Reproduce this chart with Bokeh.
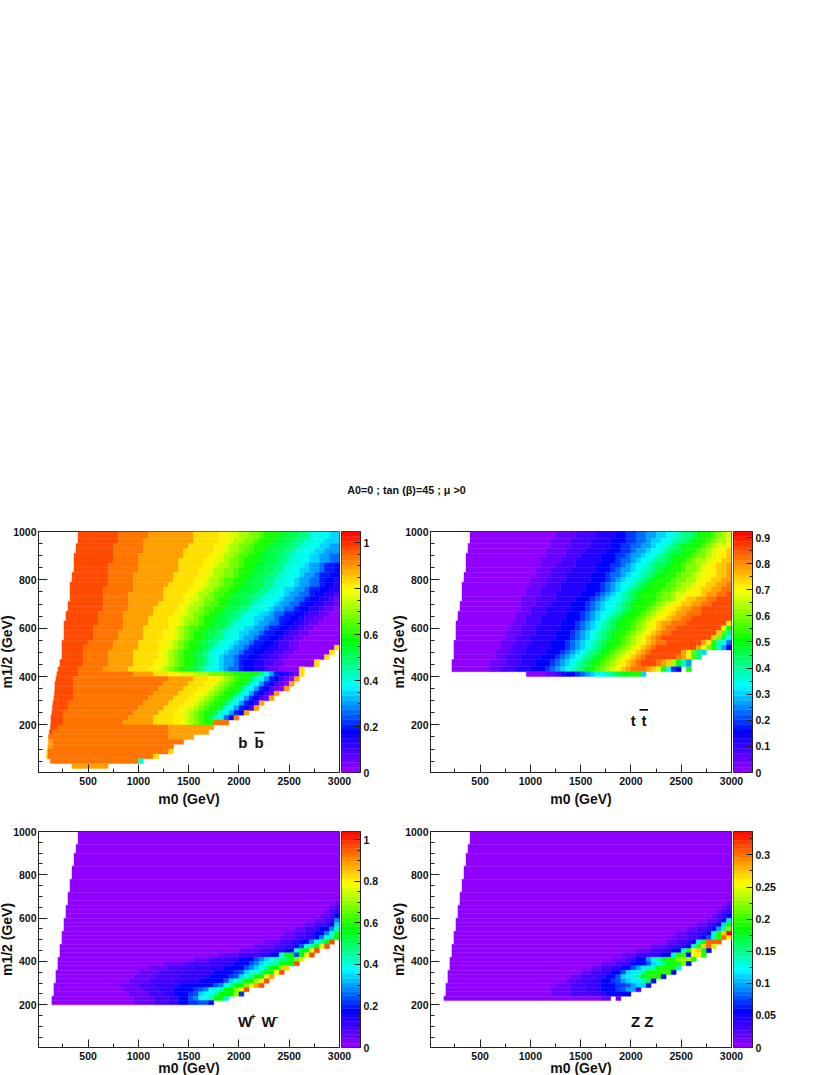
import re
import colorsys
import numpy as np
from bokeh.plotting import figure
from bokeh.layouts import column, row
from bokeh.models import LinearColorMapper, FixedTicker, ColumnDataSource
from bokeh.core.properties import value
from bokeh.transform import transform
from bokeh.embed import file_html
from bokeh.resources import INLINE

# Each row: (m1/2 low, m1/2 high, first m0, runs of level letter + number of 50 GeV columns)
# Letters a..z are 26 equal steps of the colour scale, a capital is half a step above,
# "." is an empty cell.
BB_ROWS = [
    (970, 1000, 400, "X2x6W6V9u5t2s2r2q2p1o3n2m2l2k1j3i2"),
    (950, 970, 400, "X2x6W5V10u5t2s1r2q2p1o3n2m2l2k2j2i3"),
    (930, 950, 380, "X3x5W6V9u5t2s1r2q2p1o3n2m2l2k2j2i2h2"),
    (910, 930, 380, "X3x5W6V8u6t2s1r2q1p2o2n2m2l2k2j2i2h3"),
    (890, 910, 360, "X3x5W5V9u5t2s1r2q1p2o2n2m2l2k2j2i2h2g2"),
    (870, 890, 360, "X3x5W5V8u5t2s2r1q2p1o3n2m2l2k2j2i2h2g2"),
    (850, 870, 360, "X3x4W6V8u5t2s1r2q2p1o2n2m2l2k2j2i1h2g1f2e1"),
    (830, 850, 360, "X2x5W6V8u4t2s1r2q2p1o3n2m2l2k2j1i2h2g1f2e1"),
    (810, 830, 340, "X3x5W5V8u5t2s1r2q2p1o2n2m2l2k2j2i1h2g1f2e2"),
    (790, 810, 340, "X3x5W5V8u4t2s1r2q1p2o2n2m2l2k2j2i1h2g2f1e2d1"),
    (770, 790, 320, "X3x5W5V7u5t2s1r2q1p2o2n2m2l2k2j2i1h2g2f1e2d1"),
    (750, 770, 320, "X3x4W6V6u5t2s1r2q1p2o2n2m2l2k2j1i2h2g1f2e2d2"),
    (730, 750, 320, "X3x4W5V7u4t2s1r2q1p2o2n2m2l2k2j2i1h2g2f1e2d2c1"),
    (710, 730, 320, "X3x4W5V7u4t1s2r1q2p1o2n2m2l2k2j2i1h2g2f1e2d2c1b1"),
    (690, 710, 300, "X3x4W5V6u4t2s1r2q1p2o2n2m2l1k2j2i1h2g2f1e2d2c2b1"),
    (670, 690, 300, "X2x5W5V5u5t1s1r2q1p2o2n1m2l2k2j2i1h2g2f1e2d2c1b2a1"),
    (650, 670, 280, "X3x4W5V6u4t2s1r1q2p1o2n1m2l2k1j2i2h1g2f2e2d1c2b2a2"),
    (630, 650, 280, "X3x4W5V5u4t2s1r2q1p1o2n2m1l2k1j2i2h2g1f2e2d1c2b2a3"),
    (610, 630, 260, "X3x4W5V5u4t2s1r1q2p1o2n1m2l1k2j2i1h2g2f1e2d2c1b2a4"),
    (590, 610, 260, "X3x3W6V4u5t1s1r1q1p2o2n1m2l1k2j1i2h2g1f2e2d2c1b2a5"),
    (570, 590, 260, "X3x3W5V5u4t2s1r1q1p1o2n1m2l1k2j1i2h2g1f2e2d1c2b2a6"),
    (550, 570, 260, "X2x4W5V5u4t2s1r1q1p1o2n1m1l2k1j2i1h2g1f2e2d1c2b2a7"),
    (530, 550, 240, "X3x3W5V5u4t2s1r1q1p1o2n1m1l2k1j2i1h2g1f2e2d1c2b2a8"),
    (510, 530, 240, "X3x2W6V5u4t2s1r1q1p1o2n1m1l1k1j2i1h2g1f2e2d2c2b2a7u1"),
    (490, 510, 240, "X3x2W5V5u5t1s1r1q1p1o2n1m1l1k1j2i1h2g1f2e2d2c2b2a7u1"),
    (470, 490, 240, "X2x3W5V5u5t1s1r1q1p1o2n1m1l1k1j1i1h2g1f2e2d2c2b2a7u1"),
    (440, 470, 220, "X2x3W5V5u4t2s1r1q1p1o2n1m1l1k1j1i1h2g1f1e2d2c2b2a6u1"),
    (420, 440, 200, "X2x2W5V5u4t2s1r1q1p1o2n1m1l1k1j2i1h1g2f1e2d2c1b2a4u1"),
    (400, 420, 190, "X3x2w11v4u3t2s3r3q3p2o5l1j1h1f1e1d1c1b1u1"),
    (380, 400, 180, "X2x2w19v5u3t2s1r1q1p1o2m1k1j1h1f1e1c1b1a1v1"),
    (360, 380, 170, "X2x2w18v5u3t2s1r1q1p1o2m1k1j1h1f1e1c1b1a1v1"),
    (340, 360, 170, "X2x2w17v5u3t2s1r1q1p1o2m1k1j1h1f1e1c1b1a1v1"),
    (320, 340, 165, "X2x2w16v5u3t2s1r1q1p1o2m1k1j1h1f1e1c1b1v1"),
    (300, 320, 160, "X2x2w15v5u3t2s1r1q1p1o2m1k1j1h1f1e1c1b1v1"),
    (280, 300, 150, "X1x2w15v5u3t2s1r1q1p1o2m1k1j1h1f1e1c1v1"),
    (260, 280, 145, "X2x2w14v5u3t2s1r1q1p1o2m1k1j1h1f1e1c1v1"),
    (240, 260, 140, "X2x1w14v5u3t2s1r1q1p1o2m1k1j1h1f1e1v1"),
    (220, 240, 130, "X2x1w13v5u4t2s1r1q1p1o1m1k1j1g1e1w1"),
    (200, 220, 130, "X2x1w12v6u4t2s1r1q1p1o2w3"),
    (180, 200, 125, "x2w22v9"),
    (160, 180, 115, "x1w23v8"),
    (140, 160, 105, "w10W10w4v5"),
    (120, 140, 105, "v1w8W12w6"),
    (100, 120, 100, "v1w5W15w4"),
    (80, 100, 90, "u1w4W17w3u1"),
    (60, 80, 85, "u1w3W18u1"),
    (40, 60, 125, "w2W16k1"),
    (20, 40, 340, "v8"),
]

TT_ROWS = [
    (970, 1000, 400, "a17b4c4d4e2f2g2h2i2j2k1l2m1n1o2p1q1r1s1"),
    (950, 970, 400, "a16b4c4d4e3f2g2h1i2j2k1l2m1n1o2p1q1r2s1"),
    (930, 950, 380, "a17b4c4d4e2f2g2h2i1j2k1l1m1n2o2p1q1r1s2t1"),
    (910, 930, 380, "a16b4c4d4e3f2g1h2i1j2k1l1m2n1o2p1q1r1s1t2u1"),
    (890, 910, 360, "a16b4c3d4e3f2g1h2i1j2k1l1m1n2o2p1q2r1s1t2u1"),
    (870, 890, 360, "a15b4c3d5e3f1g2h1i1j2k1l2m1n1o2p1q1r2s1t2u2"),
    (850, 870, 360, "a15b3c4d4e3f2g1h1i1j2k1l1m2n1o2p1q2r1s1t2u2v1"),
    (830, 850, 360, "a14b3c4d5e3f1g1h2i1j1k2l1m1n2o2p1q2r1s1t2u2v1"),
    (810, 830, 340, "a15b3c3d5e3f1g2h1i1j2k1l1m1n2o2p1q2r1s1t3u2v1"),
    (790, 810, 340, "a14b3c4d5e3f1g1h1i1j2k1l1m1n1o3p1q2r2s1t2u2v2"),
    (770, 790, 320, "a14b3c3d5e3f1g1h1i1j2k1l1m1n1o3p2q1r2s1t2u2v2w1"),
    (750, 770, 320, "a13b3c4d5e3f1g1h1i1j1k1l1m1n1o3p2q1r2s1t2u2v2w2"),
    (730, 750, 320, "a13b3c3d5e3f1g1h1i1j1k1l1m1n1o3p1q2r1s2t3u1v2w2x1"),
    (710, 730, 320, "a12b3c4d4e3f1g1h1i1j2k1l1m1n1o3p1q2r1s1t1u2v2w2x3"),
    (690, 710, 300, "a12b3c3d4e3f1g1h1i1j2k1l1m1n1o3p1q1r1s1t2u2v2w2x4"),
    (670, 690, 300, "a12b2c3d5e3f1g1h1i1j2k1l1m1n1o2p1q1r1s1t2u1v2w2x3X3"),
    (650, 670, 280, "a12b3c3d4e3f1g1h1i1j2k1l1m1n1o2p1q1r1s1t2u1v2w3x3X3"),
    (630, 650, 280, "a12b2c3d5e3f1g1h1i1j1k1l1m1n1o2p1q1r1s1t2u1v2w2x3X5"),
    (610, 630, 260, "a11b3c3d4e3f1g1h1i1j1k1l1m1n1o2p1q1r1s1t1u1v2w3x3X4x1t1"),
    (590, 610, 260, "a11b2c3d5e3f1g1h1i1j1k1l1m1n1o2p1q1r1s1t1u1v1w2x3X5x1t1o1"),
    (570, 590, 260, "a10b3c3d4e3f1g1h1i1j1k1l1m1n1o2p1q1r1s1t1u1v1w2x3X5x1u1p1l1"),
    (550, 570, 260, "a10b2c3d5e3f1g1h1i1j1k1l1m1n1o1p1q1r1s1t1u1v1w1x3X6x1u1q1m1j1"),
    (530, 550, 240, "a10b3c3d4e3f1g1h1i1j1k1l1m1n1o2p1q1r1s1t1u1v1w2x2X4x1v1t1o1k1j1g1"),
    (510, 530, 240, "a10b2c3d5e3f1g1h1i1j1k1l1m1n1o1p1q1r1s1t1u1v1w1x2X4x2v1t1q1o1k1h1e1"),
    (490, 510, 240, "a9b3c3d4e3f1g1h1i1j1k1l1m1n1o1p1q1r1s1t1u1v1w1x2X2x2v1t1p1l1i1"),
    (470, 490, 240, "a9b2c3d4e3f1g1h1i1j1k1l1m1n1o1p1q1r1s1t1u1v1w1x3X1x2w1v1t1p1l1"),
    (440, 470, 220, "a8b3c3d3e3f1g1h1i1j1k1l1m1n1o1p1q1r1s1t1u1v1w1x3w1v1u1r1n1k1h1"),
    (420, 440, 220, "a8b2c3d3e3f1g1h1i1j1k1l1m1n1o1p1q1r1s1t1u1v1w3v1u1s1o1j1f1e1.1o1"),
    (400, 420, 960, "a4b2c1d1e2f1g1h1i1j2k1l1m1n2o2i1"),
]

WW_ROWS = [
    (940, 1000, 400, "a52"),
    (900, 940, 380, "a53"),
    (840, 900, 360, "a53"),
    (780, 840, 340, "a54"),
    (720, 780, 320, "a54"),
    (680, 720, 300, "a54"),
    (660, 680, 300, "a53b1"),
    (640, 660, 280, "a53b1c1"),
    (620, 640, 280, "a52b1c1d1"),
    (600, 620, 280, "a51b2c1e1"),
    (580, 600, 260, "a50b2c1d1h1"),
    (560, 580, 260, "a48b2c2d1e1i1"),
    (540, 560, 260, "a46b2c2d1e2h1k1"),
    (520, 540, 240, "a45b2c2d2e2h1j1n1"),
    (500, 520, 240, "a44b3c2d2e1h1j1l1o1"),
    (480, 500, 240, "a41b3c2d2e2h1j1l1o1x1"),
    (460, 480, 220, "a39b4c2d2e1g1j1l1o1s1x1"),
    (440, 460, 220, "a36b4c3d2e2j1n1o1s1x1"),
    (420, 440, 220, "a32b4c4d2e2j1n1o1f1o1t1x1"),
    (400, 420, 200, "a27b3c3d3e3g1h1i1j1k1l1m1o1q1s1"),
    (380, 400, 200, "a21b4c5d5e3g1h1i1j1k1l1o3x1"),
    (360, 380, 200, "a18b4c5d6e4g1h1i1j1l1o2r1u1"),
    (340, 360, 180, "a17b4c5d6e4f1g1i1j2l1o2t1x1"),
    (320, 340, 180, "a16b4c5d6e4f1g1i1j1l1o2s1v1"),
    (300, 320, 180, "a15b4c5d5e5g1i1j1l1o2r1t1x1"),
    (280, 300, 160, "a13b4c3d5e7g1h1j1l1o2q1t1v1x1"),
    (260, 280, 160, "a14b4c3d3e4f1g1h1j2l1o2q1t1x1"),
    (240, 260, 160, "a15b4c3d2e3f1g1i1j2l1o3r1f1"),
    (220, 240, 140, "a17b4c3d2e2g1h1j2l1o2k1"),
    (200, 220, 140, "a17b4c3d2e2f2g2e1"),
]

ZZ_ROWS = [
    (940, 1000, 400, "a52"),
    (900, 940, 380, "a53"),
    (840, 900, 360, "a53"),
    (780, 840, 340, "a54"),
    (720, 780, 320, "a54"),
    (680, 720, 300, "a54"),
    (660, 680, 300, "a53b1"),
    (640, 660, 280, "a53b1c1"),
    (620, 640, 280, "a52b1c1d1"),
    (600, 620, 280, "a51b1c1d1e1"),
    (580, 600, 260, "a50b2c1e1i1"),
    (560, 580, 260, "a48b2c1d1e1i1n1"),
    (540, 560, 260, "a46b2c2d1e1h1l1q1"),
    (520, 540, 240, "a45b2c2d2e1j1o1u1z1"),
    (500, 520, 240, "a44b3c2d1e1g1k1o1x1t1"),
    (480, 500, 240, "a43b2c2d1e1j1o1x3"),
    (460, 480, 220, "a40b3c2d2e1j1o1u1x1s1"),
    (440, 460, 220, "a37b3c2d2e2j1o1t1u1n1e1"),
    (420, 440, 220, "a34b3c3d2e2j1o1p1e1t2o1"),
    (400, 420, 200, "a32b3c1d1e2h1j1l1n1o2q1r2o1"),
    (380, 400, 200, "a30b3c2d1e3g1i1j1l1n1o2q1e1"),
    (360, 380, 200, "a28b2c2d2e2g1h1j2l1n1o3k1"),
    (340, 360, 180, "a27b2c2d2e2g1i1j2l1n1o4e1"),
    (320, 340, 180, "a25b2c3d2e2g1i1j2l1n1o3e1"),
    (300, 320, 180, "a24b2c3d2e2f1g1h1i1j2l1m1e1"),
    (280, 300, 160, "a22b3c3d3e3f2g1h1i2e1"),
    (260, 280, 160, "a21b4c3d3e3f1g1h2c1"),
    (240, 260, 160, "a21b4c4d3e5"),
    (220, 240, 140, "a32b2.1b1"),
]

Z_MAX = [1.048, 0.923, 1.04, 0.3365]
BAR_TICKS = [
    [0, 0.2, 0.4, 0.6, 0.8, 1],
    [0, 0.1, 0.2, 0.3, 0.4, 0.5, 0.6, 0.7, 0.8, 0.9],
    [0, 0.2, 0.4, 0.6, 0.8, 1],
    [0, 0.05, 0.1, 0.15, 0.2, 0.25, 0.3],
]
BAR_MINOR = [0.05, 0.05, 0.05, 0.025]
X_TICKS = [500, 1000, 1500, 2000, 2500, 3000]
X_MINOR = [250, 750, 1250, 1750, 2250, 2750]
Y_TICKS = [200, 400, 600, 800, 1000]
Y_MINOR = [m for m in range(50, 1000, 50) if m % 200]
TITLE = "A0=0 ; tan (\u03b2)=45 ; \u03bc >0"
FONT = "Liberation Sans"

# colour scale: fraction of the bar -> hue, as seen on the colour bars
STOPS = ([0, 0.17, 0.36, 0.55, 0.76, 1], [276, 240, 180, 120, 60, 0])
PALETTE = []
for f in (np.arange(50) + 0.5) / 50:
    r, g, b = colorsys.hsv_to_rgb(float(np.interp(f, *STOPS)) / 360, 1, 1)
    PALETTE.append("#%02x%02x%02x" % (round(r * 255), round(g * 255), round(b * 255)))


def decode(rows, zmax):
    out = dict(left=[], right=[], bottom=[], top=[], z=[])
    for y0, y1, x0, runs in rows:
        col = int(x0 // 50)
        left = x0
        for ch, n in re.findall(r"([a-zA-Z.])(\d+)", runs):
            col += int(n)
            right = min(col * 50, 3000)
            if ch != "." and right > left:
                level = ord(ch.lower()) - 97 + (0.5 if ch.isupper() else 0)
                out["left"].append(left)
                out["right"].append(right)
                out["bottom"].append(y0)
                out["top"].append(y1)
                out["z"].append(level / 25 * zmax)
            left = right
    return out


def style_axis(ax, size="10.5px"):
    ax.axis_line_color = "#222222"
    ax.major_tick_line_color = "#222222"
    ax.minor_tick_line_color = "#222222"
    ax.major_label_text_font = FONT
    ax.major_label_text_font_style = "bold"
    ax.major_label_text_font_size = size
    ax.major_label_text_color = "#111111"


def panel(rows, zmax, left_over, top_b, frame_h, bottom_b, bottom_over, x_standoff):
    # the figure is 42 px wide on the left of its frame and laps over its neighbour by left_over
    mapper = LinearColorMapper(palette=PALETTE, low=0, high=zmax)
    left_b = 42
    p = figure(width=left_b + 301 + 13, height=top_b + frame_h + bottom_b,
               x_range=(7, 3000), y_range=(3, 1000), output_backend="svg",
               toolbar_location=None, min_border_left=left_b, min_border_right=13,
               min_border_top=top_b, min_border_bottom=bottom_b,
               background_fill_color="white", border_fill_color=None,
               margin=(0, 0, -bottom_over, -left_over))
    p.grid.visible = False
    p.outline_line_color = "#222222"
    src = ColumnDataSource(decode(rows, zmax))
    c = transform("z", mapper)
    p.quad(left="left", right="right", bottom="bottom", top="top", source=src,
           fill_color=c, line_color=c, line_width=0.4)
    xa, ya = p.xaxis[0], p.yaxis[0]
    xa.ticker = FixedTicker(ticks=X_TICKS, minor_ticks=X_MINOR)
    ya.ticker = FixedTicker(ticks=Y_TICKS, minor_ticks=Y_MINOR)
    for ax in (xa, ya):
        style_axis(ax)
        ax.major_tick_out = 0
        ax.minor_tick_out = 0
        ax.major_label_standoff = 2
        ax.axis_label_text_font = FONT
        ax.axis_label_text_font_style = "bold"
        ax.axis_label_text_font_size = "14px"
        ax.axis_label_text_color = "#111111"
    xa.major_label_standoff = 4
    xa.major_tick_in, xa.minor_tick_in = 8, 4
    ya.major_tick_in, ya.minor_tick_in = 9, 4
    xa.axis_label = "m0 (GeV)"
    ya.axis_label = "m1/2 (GeV)"
    xa.axis_label_standoff = x_standoff
    ya.axis_label_standoff = -5
    return p, mapper


def bar(mapper, zmax, ticks, minor, top_b, frame_h, bottom_b, bottom_over, right_b):
    b = figure(width=1 + 19 + right_b, height=top_b + frame_h + bottom_b, x_range=(0, 1),
               y_range=(0, zmax), y_axis_location="right", output_backend="svg",
               toolbar_location=None, min_border_left=1, min_border_right=right_b,
               min_border_top=top_b, min_border_bottom=bottom_b, border_fill_color=None,
               margin=(0, 0, -bottom_over, -12))
    b.grid.visible = False
    b.xaxis.visible = False
    b.outline_line_color = "#222222"
    e = np.linspace(0, zmax, 51)
    src = ColumnDataSource(dict(b=e[:-1], t=e[1:], z=(e[:-1] + e[1:]) / 2))
    c = transform("z", mapper)
    b.quad(left=0, right=1, bottom="b", top="t", source=src, fill_color=c, line_color=c, line_width=0.4)
    ya = b.yaxis[0]
    mins = [m for m in np.arange(0, zmax, minor)]
    ya.ticker = FixedTicker(ticks=ticks, minor_ticks=mins)
    style_axis(ya)
    ya.major_tick_in, ya.major_tick_out = 6, 0
    ya.minor_tick_in, ya.minor_tick_out = 3, 0
    ya.major_label_standoff = 3
    return b


def txt(p, x, y, s, size="15px"):
    p.text(x=[x], y=[y], text=[s], text_font=value(FONT), text_font_style="bold",
           text_font_size=size, text_align="center", text_baseline="middle", text_color="#111111")


# top strip with the overall title
top = figure(width=798, height=500, x_range=(0, 798), y_range=(0, 500), output_backend="svg",
             toolbar_location=None, min_border=0, outline_line_color=None)
top.axis.visible = False
top.grid.visible = False
txt(top, 406, 11, TITLE, "10.8px")

p1, m1 = panel(BB_ROWS, Z_MAX[0], 4, 31, 242, 36, 3, 3)
txt(p1, 2040, 126, "b")
txt(p1, 2200, 126, "b")
p1.segment(x0=[2155], y0=[168], x1=[2255], y1=[168], line_color="#111111", line_width=1.6)
b1 = bar(m1, Z_MAX[0], BAR_TICKS[0], BAR_MINOR[0], 31, 242, 36, 3, 30)

p2, m2 = panel(TT_ROWS, Z_MAX[1], 2, 31, 242, 36, 3, 3)
txt(p2, 2022, 218, "t")
txt(p2, 2131, 218, "t")
p2.segment(x0=[2085], y0=[262], x1=[2170], y1=[262], line_color="#111111", line_width=1.6)
b2 = bar(m2, Z_MAX[1], BAR_TICKS[1], BAR_MINOR[1], 31, 242, 36, 3, 36)

p3, m3 = panel(WW_ROWS, Z_MAX[2], 4, 25, 217, 30, 4, -3)
txt(p3, 2060, 123, "W")
txt(p3, 2140, 142, "+", "9px")
txt(p3, 2295, 123, "W")
txt(p3, 2375, 142, "-", "9px")
b3 = bar(m3, Z_MAX[2], BAR_TICKS[2], BAR_MINOR[2], 25, 217, 30, 4, 30)

p4, m4 = panel(ZZ_ROWS, Z_MAX[3], 2, 25, 217, 30, 4, -3)
txt(p4, 2045, 123, "Z")
txt(p4, 2178, 123, "Z")
b4 = bar(m4, Z_MAX[3], BAR_TICKS[3], BAR_MINOR[3], 25, 217, 30, 4, 36)

page = column(top, row(p1, b1, p2, b2, spacing=0), row(p3, b3, p4, b4, spacing=0), spacing=0)
open("out.html", "w").write(file_html(page, INLINE))
